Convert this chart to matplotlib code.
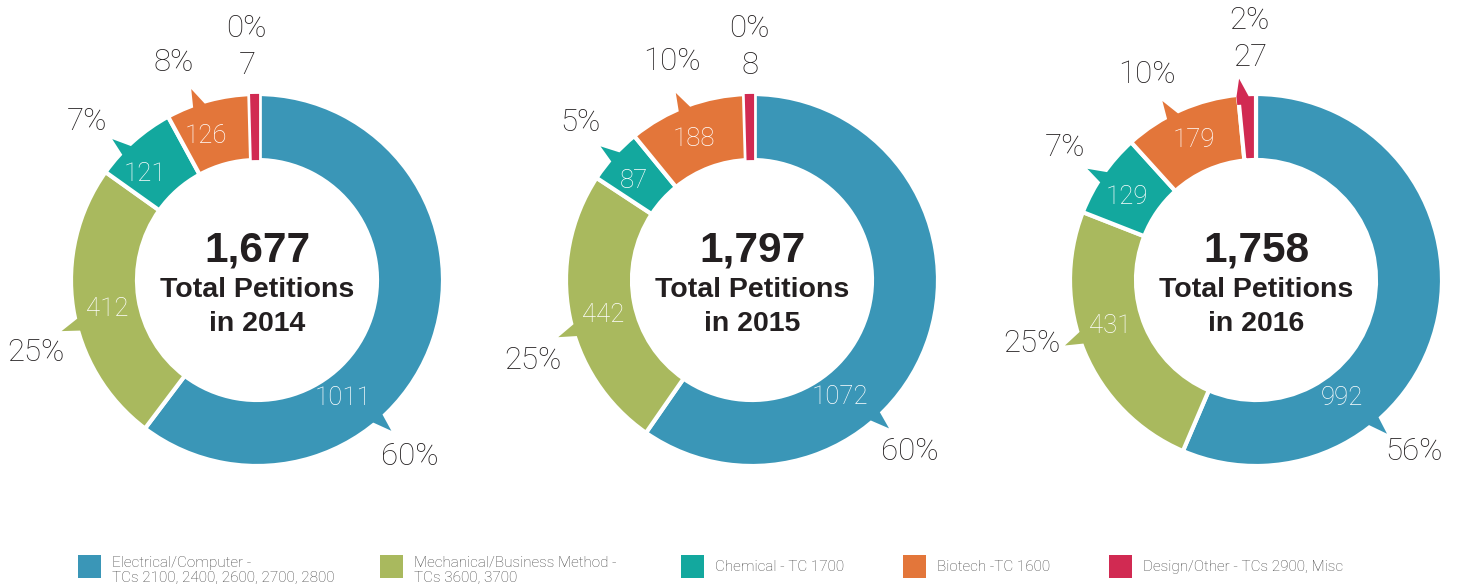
import numpy as np
import matplotlib.pyplot as plt
import matplotlib.patheffects as pe
from matplotlib.patches import Polygon, Rectangle

years = [2014, 2015, 2016]
categories = ['Electrical/Computer -\nTCs 2100, 2400, 2600, 2700, 2800',
              'Mechanical/Business Method -\nTCs 3600, 3700',
              'Chemical - TC 1700',
              'Biotech -TC 1600',
              'Design/Other - TCs 2900, Misc']
petitions_2014 = [1011, 412, 121, 126, 7]
petitions_2015 = [1072, 442, 87, 188, 8]
petitions_2016 = [992, 431, 129, 179, 27]
colors = ['#3A96B7', '#A9B95E', '#13A89E', '#E3763A', '#D12A52']

# layout (pixels of a 1461x588 canvas)
W, H = 1461, 588
centers_x = [257, 752, 1256]
center_y = H - 280
R = 186          # drawn radius (white stroke eats ~2px)
RING = 66
# where, as a fraction of each wedge (clockwise from its start), the callouts sit
ptr_frac = [[0.64, 0.44, 0.36, 0.375],
            [0.642, 0.445, 0.50, 0.47],
            [0.69, 0.55, 0.477, 0.414]]
val_frac = [[0.663, 0.475, 0.305, 0.335],
            [0.666, 0.474, 0.384, 0.445],
            [0.709, 0.558, 0.428, 0.496]]
pct_frac = [[0.641, 0.394, 0.29, 0.283],
            [0.640, 0.397, 0.527, 0.506],
            [0.676, 0.577, 0.507, 0.387]]
small_off = [1.7, -0.3, -1.3]   # degrees, label shift for the last (tiny) slice
val_r = [146, 153, 154, 153]
light = dict(family='Roboto', fontweight='light')
bold = dict(family='Liberation Sans', fontweight='bold')
TXT = '#231F20'


def polar(cx, cy, r, deg):
    a = np.radians(deg)
    return cx + r * np.cos(a), cy + r * np.sin(a)


def tail(ax, cx, cy, ang, color):
    half = 1.9
    pts = [polar(cx, cy, R - 10, ang - half), polar(cx, cy, R - 2, ang - half),
           polar(cx, cy, R + 16, ang + 0.6),
           polar(cx, cy, R - 2, ang + half), polar(cx, cy, R - 10, ang + half)]
    ax.add_patch(Polygon(pts, closed=True, facecolor=color, edgecolor='none', zorder=3))


def donut(ax, k, vals, cx, year):
    cy = center_y
    total = sum(vals)
    wedges, _ = ax.pie(vals, center=(cx, cy), radius=R, startangle=90, counterclock=False,
                       colors=colors, wedgeprops=dict(width=RING, edgecolor='white', linewidth=3))
    bounds = 90 - 360 * np.concatenate([[0], np.cumsum(vals)]) / total
    for i, v in enumerate(vals):
        start, end = bounds[i], bounds[i + 1]
        span = start - end
        pct = round(100 * v / total)
        if i < 4:
            ang = start - ptr_frac[k][i] * span
            tail(ax, cx, cy, ang, colors[i])
            x, y = polar(cx, cy, 233, start - pct_frac[k][i] * span)
            ax.text(x, y, f'{pct}%', fontsize=22.5, color=TXT, ha='center', va='center', **light)
            x, y = polar(cx, cy, val_r[i], start - val_frac[k][i] * span)
            ax.text(x, y, str(v), fontsize=18.5, color='white', ha='center', va='center',
                    zorder=4, **light)
        else:
            mid = (start + end) / 2
            r0 = 215
            if pct >= 1:
                tail(ax, cx, cy, start - 0.24 * span, colors[i])
                r0 = 223
            else:
                # keep a sliver visible: own-colour stroke with a white halo
                w = wedges[i]
                w.set_radius(R - 2)
                w.set_width(RING - 4)
                w.set_edgecolor(colors[i])
                w.set_path_effects([pe.withStroke(linewidth=7, foreground='white')])
                w.set_zorder(2)
            x, y = polar(cx, cy, r0, mid + small_off[k])
            ax.text(x, y, str(v), fontsize=22.5, color=TXT, ha='center', va='center', **light)
            x, y = polar(cx, cy, r0 + 37, mid + small_off[k])
            ax.text(x, y, f'{pct}%', fontsize=22.5, color=TXT, ha='center', va='center', **light)

    ax.text(cx, cy + 30, f'{total:,}', fontsize=30.5, color=TXT, ha='center', va='center', **bold)
    ax.text(cx, cy - 10, 'Total Petitions', fontsize=20.5, color=TXT, ha='center', va='center', **bold)
    ax.text(cx, cy - 44, f'in {year}', fontsize=20.5, color=TXT, ha='center', va='center', **bold)


fig = plt.figure(figsize=(W / 100, H / 100), dpi=100)
ax = fig.add_axes([0, 0, 1, 1])

for k, (vals, cx, year) in enumerate(zip([petitions_2014, petitions_2015, petitions_2016],
                                         centers_x, years)):
    donut(ax, k, vals, cx, year)

# legend
leg_x = [78, 380, 681, 903, 1109]
for x, lab, c in zip(leg_x, categories, colors):
    ax.add_patch(Rectangle((x, H - 578), 23, 23, facecolor=c, edgecolor='none'))
    ty = H - (570.5 if '\n' in lab else 567)
    ax.text(x + 34, ty, lab, fontsize=11, color='#444444', ha='left', va='center',
            linespacing=1.15, **light)

ax.set_xlim(0, W)
ax.set_ylim(0, H)
ax.set_aspect('equal')
ax.axis('off')
fig.savefig('out.png', dpi=100)
